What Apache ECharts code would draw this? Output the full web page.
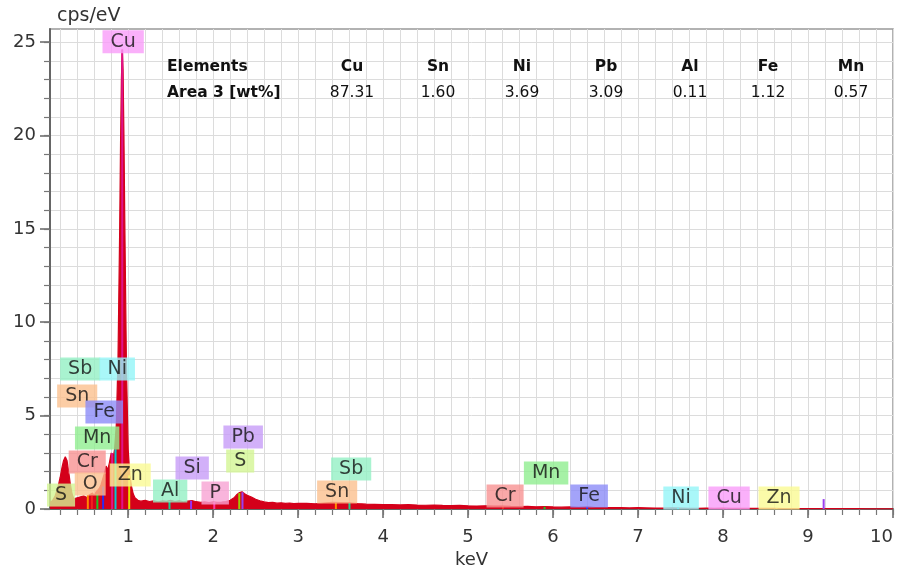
<!DOCTYPE html>
<html>
<head>
<meta charset="utf-8">
<script src="https://cdn.jsdelivr.net/npm/echarts@6/dist/echarts.min.js"></script>
<style>
  html, body { margin: 0; padding: 0; background: #fff; }
  #chart { width: 897px; height: 570px; }
</style>
</head>
<body>
<div id="chart"></div>
<script>
// spectrum (keV, cps/eV)
var spectrumKeV = [
  0.08, 0.11, 0.14, 0.17, 0.20, 0.22, 0.24, 0.26, 0.28, 0.30, 0.32, 0.34, 0.36, 0.38, 0.40, 0.42, 0.44, 0.46, 0.48, 0.50,
  0.52, 0.54, 0.56, 0.58, 0.60, 0.62, 0.64, 0.66, 0.68, 0.70, 0.72, 0.74, 0.76, 0.78, 0.80, 0.82, 0.84, 0.86, 0.88, 0.90,
  0.91, 0.92, 0.93, 0.94, 0.95, 0.96, 0.98, 1.00, 1.02, 1.04, 1.06, 1.08, 1.10,
  1.12, 1.15, 1.20, 1.25, 1.30, 1.35, 1.40, 1.45, 1.50, 1.55, 1.60, 1.65, 1.70, 1.75, 1.80, 1.85, 1.90, 1.95, 2.00, 2.05,
  2.10, 2.15, 2.20, 2.25, 2.28, 2.31, 2.34, 2.37, 2.40, 2.45, 2.50, 2.55, 2.60, 2.65, 2.70, 2.75, 2.80, 2.85, 2.90, 2.95, 3.00,
  3.1, 3.2, 3.3, 3.4, 3.5, 3.6, 3.7, 3.8, 3.9, 4.0, 4.1, 4.2, 4.3, 4.4, 4.5, 4.6, 4.7, 4.8, 4.9, 5.0,
  5.1, 5.2, 5.3, 5.4, 5.5, 5.6, 5.7, 5.8, 5.9, 6.0, 6.1, 6.2, 6.3, 6.4, 6.5, 6.6, 6.7, 6.8, 6.9, 7.0,
  7.1, 7.2, 7.3, 7.4, 7.5, 7.6, 7.7, 7.8, 7.9, 8.0, 8.1, 8.2, 8.3, 8.4, 8.5, 8.6, 8.7, 8.8, 8.9, 9.0,
  9.1, 9.2, 9.3, 9.4, 9.5, 9.6, 9.7, 9.8, 9.9, 10.0
];
var spectrumCps = [
  0.35, 0.45, 0.7, 1.1, 1.7, 2.2, 2.6, 2.8, 2.6, 2.0, 1.3, 0.8, 0.55, 0.5, 0.6, 0.52, 0.65, 0.55, 0.7, 0.8,
  0.6, 0.75, 0.68, 0.85, 0.7, 0.9, 0.85, 1.1, 1.3, 1.6, 1.9, 2.3, 2.1, 2.5, 3.0, 2.7, 3.2, 4.5, 8.0, 15.0,
  19.5, 23.0, 24.6, 23.5, 20.0, 15.5, 7.5, 3.2, 1.8, 1.2, 0.8, 0.6, 0.5,
  0.45, 0.42, 0.46, 0.40, 0.44, 0.38, 0.43, 0.41, 0.47, 0.40, 0.44, 0.38, 0.42, 0.45, 0.39, 0.36, 0.38, 0.34, 0.39, 0.35,
  0.37, 0.40, 0.47, 0.62, 0.78, 0.88, 0.92, 0.82, 0.74, 0.64, 0.52, 0.44, 0.38, 0.34, 0.36, 0.31, 0.33, 0.30, 0.32, 0.29, 0.30,
  0.30, 0.28, 0.32, 0.35, 0.34, 0.33, 0.29, 0.26, 0.25, 0.24, 0.23, 0.22, 0.23, 0.21, 0.20, 0.21, 0.19, 0.18, 0.19, 0.17,
  0.16, 0.17, 0.15, 0.16, 0.14, 0.13, 0.14, 0.12, 0.13, 0.11, 0.10, 0.11, 0.09, 0.11, 0.08, 0.07, 0.08, 0.07, 0.06, 0.07,
  0.06, 0.05, 0.05, 0.06, 0.05, 0.04, 0.04, 0.05, 0.04, 0.05, 0.04, 0.03, 0.03, 0.03, 0.03, 0.03, 0.02, 0.02, 0.02, 0.02,
  0.02, 0.02, 0.02, 0.02, 0.02, 0.02, 0.01, 0.01, 0.01, 0.01
];

// element line markers
var markerNames = ['O', 'Cr', 'Mn', 'Fe', 'Cu', 'Ni', 'Cu', 'Zn', 'Al', 'Si', 'P', 'S', 'Pb', 'Sn', 'Sb', 'Cr', 'Mn', 'Fe', 'Ni', 'Cu', 'Zn', 'Pb'];
var markerKeV = [0.525, 0.573, 0.637, 0.705, 0.811, 0.851, 0.93, 1.012, 1.486, 1.74, 2.013, 2.307, 2.345, 3.444, 3.604, 5.41, 5.9, 6.4, 7.47, 8.04, 8.63, 9.184];
var markerCps = [0.75, 0.7, 0.8, 1.2, 3.0, 3.2, 24.6, 1.8, 0.42, 0.44, 0.38, 0.85, 0.9, 0.33, 0.32, 0.15, 0.12, 0.1, 0.06, 0.05, 0.03, 0.53];

// element tags
var labelNames = ['Cu', 'Sb', 'Ni', 'Sn', 'Fe', 'Mn', 'Cr', 'O', 'S', 'Zn', 'Al', 'Si', 'P', 'Pb', 'S', 'Sb', 'Sn', 'Cr', 'Mn', 'Fe', 'Ni', 'Cu', 'Zn'];
var labelKeV = [0.941, 0.435, 0.871, 0.40, 0.718, 0.635, 0.518, 0.553, 0.21, 1.024, 1.494, 1.753, 2.024, 2.353, 2.318, 3.624, 3.459, 5.435, 5.918, 6.424, 7.506, 8.071, 8.659];
var labelCps = [25.07, 7.55, 7.55, 6.11, 5.25, 3.86, 2.57, 1.39, 0.80, 1.87, 1.02, 2.25, 0.91, 3.91, 2.62, 2.20, 0.96, 0.75, 1.98, 0.75, 0.64, 0.64, 0.64];

// quantification table
var tableElements = ['Cu', 'Sn', 'Ni', 'Pb', 'Al', 'Fe', 'Mn'];
var tableWt = ['87.31', '1.60', '3.69', '3.09', '0.11', '1.12', '0.57'];

var xMajorTicks = [1, 2, 3, 4, 5, 6, 7, 8, 9, 10];
var yMajorTicks = [0, 5, 10, 15, 20, 25];
var xMinorTicks = [];
for (var i = 1; i <= 50; i++) xMinorTicks.push(+(i * 0.2).toFixed(1));
var yMinorTicks = [];
for (var j = 0; j <= 25; j++) yMinorTicks.push(j);

var tagColor = {
  Cu: '#f99cf9', Ni: '#93f5f8', Fe: '#8c8cf8', Mn: '#90ee90', Cr: '#f79292', O: '#fbc18e',
  Zn: '#fafa94', Al: '#93f0c4', Si: '#c79cf7', P: '#f7a3d3', S: '#d3f594', Pb: '#c79cf7',
  Sn: '#fbc18e', Sb: '#93f0c4'
};
var lineColor = {
  Cu: '#e0128a', Ni: '#00c8d2', Fe: '#2a2af0', Mn: '#1fc21f', Cr: '#f02020', O: '#ff8a00',
  Zn: '#e8e000', Al: '#1fc890', Si: '#9a30f0', P: '#ff3aa0', S: '#9ccc00', Pb: '#9a40f0',
  Sn: '#ff8a00', Sb: '#1fd090'
};

var FONT = 'DejaVu Sans';
var chart = echarts.init(document.getElementById('chart'));

var spectrum = spectrumKeV.map(function (x, i) { return [x, spectrumCps[i]]; });
var markers = markerKeV.map(function (x, i) {
  return {
    value: [x, markerCps[i]],
    itemStyle: { color: lineColor[markerNames[i]] }
  };
});
var tags = labelKeV.map(function (x, i) {
  return {
    value: [x, labelCps[i]],
    name: labelNames[i],
    label: { backgroundColor: tagColor[labelNames[i]] }
  };
});

// table drawn as plain title texts
function tableText(txt, x, y, bold, center) {
  return {
    text: txt, left: x, top: y, padding: 0,
    textAlign: center ? 'center' : 'left', textVerticalAlign: 'middle',
    textStyle: { fontFamily: FONT, fontSize: 15.5, fontWeight: bold ? 'bold' : 'normal', color: '#111' }
  };
}
var colX = [352, 438, 522, 606, 690, 768, 851];
var titles = [tableText('Elements', 167, 67, true, false), tableText('Area 3 [wt%]', 167, 93, true, false)];
tableElements.forEach(function (el, i) {
  titles.push(tableText(el, colX[i], 67, true, true));
  titles.push(tableText(tableWt[i], colX[i], 93, false, true));
});

var option = {
  backgroundColor: '#fff',
  animation: false,
  title: titles,
  grid: [
    { left: 50, right: 4, top: 29, bottom: 61, outerBoundsMode: 'none', containLabel: false,
      show: true, borderColor: '#999', borderWidth: 1.5, backgroundColor: 'transparent' },
    { left: 50, right: 4, top: 29, bottom: 61, outerBoundsMode: 'none', containLabel: false }
  ],
  xAxis: [
    {
      type: 'value', gridIndex: 0, min: 0.08, max: 10,
      name: 'keV', nameLocation: 'middle', nameGap: 34,
      nameTextStyle: { fontFamily: FONT, fontSize: 18, color: '#333' },
      axisLine: { show: true, onZero: false, lineStyle: { color: '#666', width: 2 } },
      axisTick: { show: true, customValues: xMajorTicks, length: 9, lineStyle: { color: '#666', width: 1.5 } },
      axisLabel: { customValues: xMajorTicks, margin: 19, fontFamily: FONT, fontSize: 18, color: '#333', alignMaxLabel: 'right' },
      splitLine: { show: false }
    },
    {
      type: 'value', gridIndex: 1, min: 0.08, max: 10,
      axisLine: { show: false },
      axisTick: { show: true, customValues: xMinorTicks, length: 6, lineStyle: { color: '#777', width: 1.2 } },
      axisLabel: { show: false },
      splitLine: { show: true, lineStyle: { color: '#dcdcdc', width: 1 } }
    }
  ],
  yAxis: [
    {
      type: 'value', gridIndex: 0, min: 0, max: 25.7,
      name: 'cps/eV', nameLocation: 'end', nameGap: 3,
      nameTextStyle: { fontFamily: FONT, fontSize: 19, color: '#333', align: 'left', padding: [0, 0, 0, 7] },
      axisLine: { show: true, onZero: false, lineStyle: { color: '#666', width: 2 } },
      axisTick: { show: true, customValues: yMajorTicks, length: 10, lineStyle: { color: '#666', width: 1.5 } },
      axisLabel: { customValues: yMajorTicks, margin: 14, fontFamily: FONT, fontSize: 18, color: '#333' },
      splitLine: { show: false }
    },
    {
      type: 'value', gridIndex: 1, min: 0, max: 25.7,
      axisLine: { show: false },
      axisTick: { show: true, customValues: yMinorTicks, length: 6, lineStyle: { color: '#777', width: 1.2 } },
      axisLabel: { show: false },
      splitLine: { show: true, lineStyle: { color: '#dcdcdc', width: 1 } }
    }
  ],
  series: [
    {
      name: 'spectrum', type: 'line', xAxisIndex: 0, yAxisIndex: 0,
      data: spectrum, symbol: 'none', z: 2,
      lineStyle: { color: '#d4001a', width: 1.2 },
      areaStyle: { color: '#d4001a', opacity: 1 }
    },
    {
      name: 'lines', type: 'bar', xAxisIndex: 0, yAxisIndex: 0,
      data: markers, barWidth: 2, z: 3
    },
    {
      name: 'tags', type: 'scatter', xAxisIndex: 0, yAxisIndex: 0,
      data: tags, symbolSize: 1, itemStyle: { color: 'transparent' }, z: 5,
      label: {
        show: true, position: 'inside', formatter: '{b}', offset: [0, 1],
        fontFamily: FONT, fontSize: 19, color: '#111',
        padding: [0, 8], lineHeight: 23
      }
    }
  ]
};
chart.setOption(option);
</script>
</body>
</html>
